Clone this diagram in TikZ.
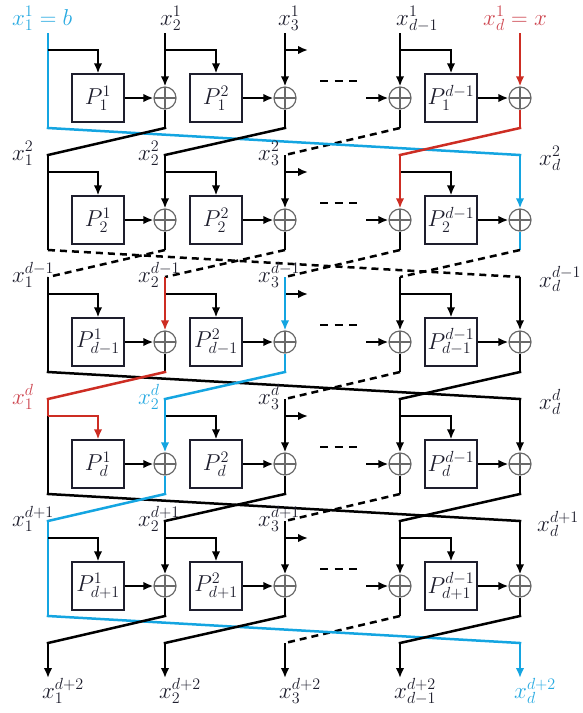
\RequirePackage{fix-cm}
\documentclass[tikz,border=0pt]{standalone}
\usetikzlibrary{arrows.meta}
\definecolor{myblue}{RGB}{20,165,225}
\definecolor{myred}{RGB}{205,45,35}
\definecolor{lred}{RGB}{205,70,80}
\definecolor{lblue}{RGB}{40,170,225}
\definecolor{ogray}{RGB}{105,105,105}
\definecolor{ink}{RGB}{30,30,45}
\begin{document}
\begin{tikzpicture}[x=1pt,y=-1pt,font=\fontsize{23}{27}\selectfont,
  wire/.style={line width=2.5pt},
  tr/.style={wire,line cap=rect},
  arr/.style={wire,-{Latex[length=10pt,width=8.5pt]}},
  parr/.style={line width=2pt,-{Latex[length=10pt,width=8.5pt]}},
  pbox/.style={draw=ink,line width=1.2pt,minimum width=52pt,minimum height=48pt,inner sep=0pt,text=ink},
  oplus/.style={circle,draw=ogray,line width=1.2pt,minimum size=22pt,inner sep=0pt,
     path picture={\draw[ogray,line width=1.2pt] (path picture bounding box.north)--(path picture bounding box.south) (path picture bounding box.west)--(path picture bounding box.east);}},
  dsh/.style={wire,dash pattern=on 7pt off 5pt},
  lbl/.style={anchor=base west,inner sep=0pt,text=ink}]
\useasboundingbox (0,0) rectangle (583,713);

% wire coordinates
\foreach \k/\Y in {1/98,2/220,3/342,4/464,5/586,6/708}{
  \foreach \j/\X in {1/48,2/165,3/285,4/400,5/520}{
    \coordinate (t\k-\j) at (\X,\Y-65);
    \coordinate (b\k-\j) at (\X,\Y-48);
    \coordinate (e\k-\j) at (\X,\Y+30);
  }
}
\foreach \j/\X in {1/48,2/165,3/285,4/400,5/520}{
  \coordinate (out-\j) at (\X,678);
}

\foreach \k/\Y/\s/\ca/\cb/\cbr/\cc/\cd/\ce/\cf/\cg/\ch/\ci/\ta/\tb/\tc/\te in {
 1/98/1/myblue/myblue/black/black/black/black/black/black/myred/myred/myblue/black/black/myred,
 2/220/2/black/black/black/black/black/black/black/myred/myblue/myblue/black/black/black/black,
 3/342/{d-1}/black/black/black/myred/black/myblue/myblue/black/black/black/black/myred/myblue/black,
 4/464/d/myred/black/myred/myblue/myblue/black/black/black/black/black/black/myblue/black/black,
 5/586/{d+1}/myblue/myblue/black/black/black/black/black/black/black/black/myblue/black/black/black}{
  \pgfmathtruncatemacro\n{\k+1}
  \node[pbox] (p\k-1) at (98,\Y) {$P^{1}_{\s}$};
  \node[pbox] (p\k-2) at (216,\Y) {$P^{2}_{\s}$};
  \node[pbox] (p\k-4) at (451,\Y) {\makebox[0pt]{$P^{d-1}_{\s}$}};
  \foreach \j/\X in {2/165,3/285,4/400,5/520}{
    \node[oplus] (o\k-\j) at (\X,\Y) {};
  }
  % column 1
  \draw[wire,draw=\ca] (t\k-1) -- (b\k-1);
  \draw[wire,draw=\cb] (b\k-1) -- (e\k-1);
  \draw[arr,draw=\cbr] (b\k-1) -| (p\k-1.north);
  % branches
  \draw[arr] (b\k-2) -| (p\k-2.north);
  \draw[arr] (b\k-4) -| (p\k-4.north);
  \coordinate (r\k) at (308,\Y-48);
  \draw[arr] (b\k-3) -- (r\k);
  % P outputs
  \draw[parr] (p\k-1) -- (o\k-2);
  \draw[parr] (p\k-2) -- (o\k-3);
  \draw[parr] (p\k-4) -- (o\k-5);
  \coordinate (l\k) at (366,\Y);
  \draw[parr] (l\k) -- (o\k-4);
  \coordinate (da\k) at (320,\Y-17);
  \coordinate (db\k) at (357,\Y-17);
  \draw[wire,dash pattern=on 8pt off 6.5pt] (da\k) -- (db\k);
  % columns into xor
  \draw[arr,draw=\cc] (t\k-2) -- (o\k-2);
  \draw[wire,draw=\cd] (o\k-2) -- (e\k-2);
  \draw[arr,draw=\ce] (t\k-3) -- (o\k-3);
  \draw[wire,draw=\cf] (o\k-3) -- (e\k-3);
  \draw[arr,draw=\cg] (t\k-4) -- (o\k-4);
  \draw[wire] (o\k-4) -- (e\k-4);
  \draw[arr,draw=\ch] (t\k-5) -- (o\k-5);
  \draw[wire,draw=\ci] (o\k-5) -- (e\k-5);
  % transitions
  \draw[dsh] (e\k-4) -- (t\n-3);
  \ifnum\k=2
    \draw[dsh] (e\k-1) -- (t\n-5);
    \draw[dsh] (e\k-2) -- (t\n-1);
    \draw[dsh] (e\k-3) -- (t\n-2);
    \draw[dsh] (e\k-5) -- (t\n-4);
  \else
    \draw[tr,draw=\ta] (e\k-1) -- (t\n-5);
    \draw[tr,draw=\tb] (e\k-2) -- (t\n-1);
    \draw[tr,draw=\tc] (e\k-3) -- (t\n-2);
    \draw[tr,draw=\te] (e\k-5) -- (t\n-4);
  \fi
}
% outputs
\foreach \j in {1,2,3,4}{
  \draw[arr] (t6-\j) -- (out-\j);
}
\draw[arr,draw=myblue] (t6-5) -- (out-5);

% labels
\node[lbl,text=lblue] (L1-1) at (12,25) {$x_1^1=b$};
\node[lbl] (L1-2) at (160,25) {$x_2^1$};
\node[lbl] (L1-3) at (278,25) {$x_3^1$};
\node[lbl] (L1-4) at (396,25) {$x_{d-1}^1$};
\node[lbl,text=lred] (L1-5) at (483,25) {$x_d^1=x$};

\node[lbl] (L2-1) at (12,160) {$x_1^2$};
\node[lbl] (L2-2) at (138,160) {$x_2^2$};
\node[lbl] (L2-3) at (258,160) {$x_3^2$};
\node[lbl] (L2-5) at (539,165) {$x_d^2$};

\node[lbl] (L3-1) at (12,282) {$x_1^{d-1}$};
\node[lbl] (L3-2) at (138,282) {$x_2^{d-1}$};
\node[lbl] (L3-3) at (258,282) {$x_3^{d-1}$};
\node[lbl] (L3-5) at (539,287) {$x_d^{d-1}$};

\node[lbl,text=lred] (L4-1) at (12,404) {$x_1^{d}$};
\node[lbl,text=lblue] (L4-2) at (138,404) {$x_2^{d}$};
\node[lbl] (L4-3) at (258,404) {$x_3^{d}$};
\node[lbl] (L4-5) at (539,409) {$x_d^{d}$};

\node[lbl] (L5-1) at (12,526) {$x_1^{d+1}$};
\node[lbl] (L5-2) at (138,526) {$x_2^{d+1}$};
\node[lbl] (L5-3) at (258,526) {$x_3^{d+1}$};
\node[lbl] (L5-5) at (537,531) {$x_d^{d+1}$};

\node[lbl] (L6-1) at (42,698) {$x_1^{d+2}$};
\node[lbl] (L6-2) at (159,698) {$x_2^{d+2}$};
\node[lbl] (L6-3) at (279,698) {$x_3^{d+2}$};
\node[lbl] (L6-4) at (394,698) {$x_{d-1}^{d+2}$};
\node[lbl,text=lblue] (L6-5) at (514,698) {$x_d^{d+2}$};
\end{tikzpicture}
\end{document}
